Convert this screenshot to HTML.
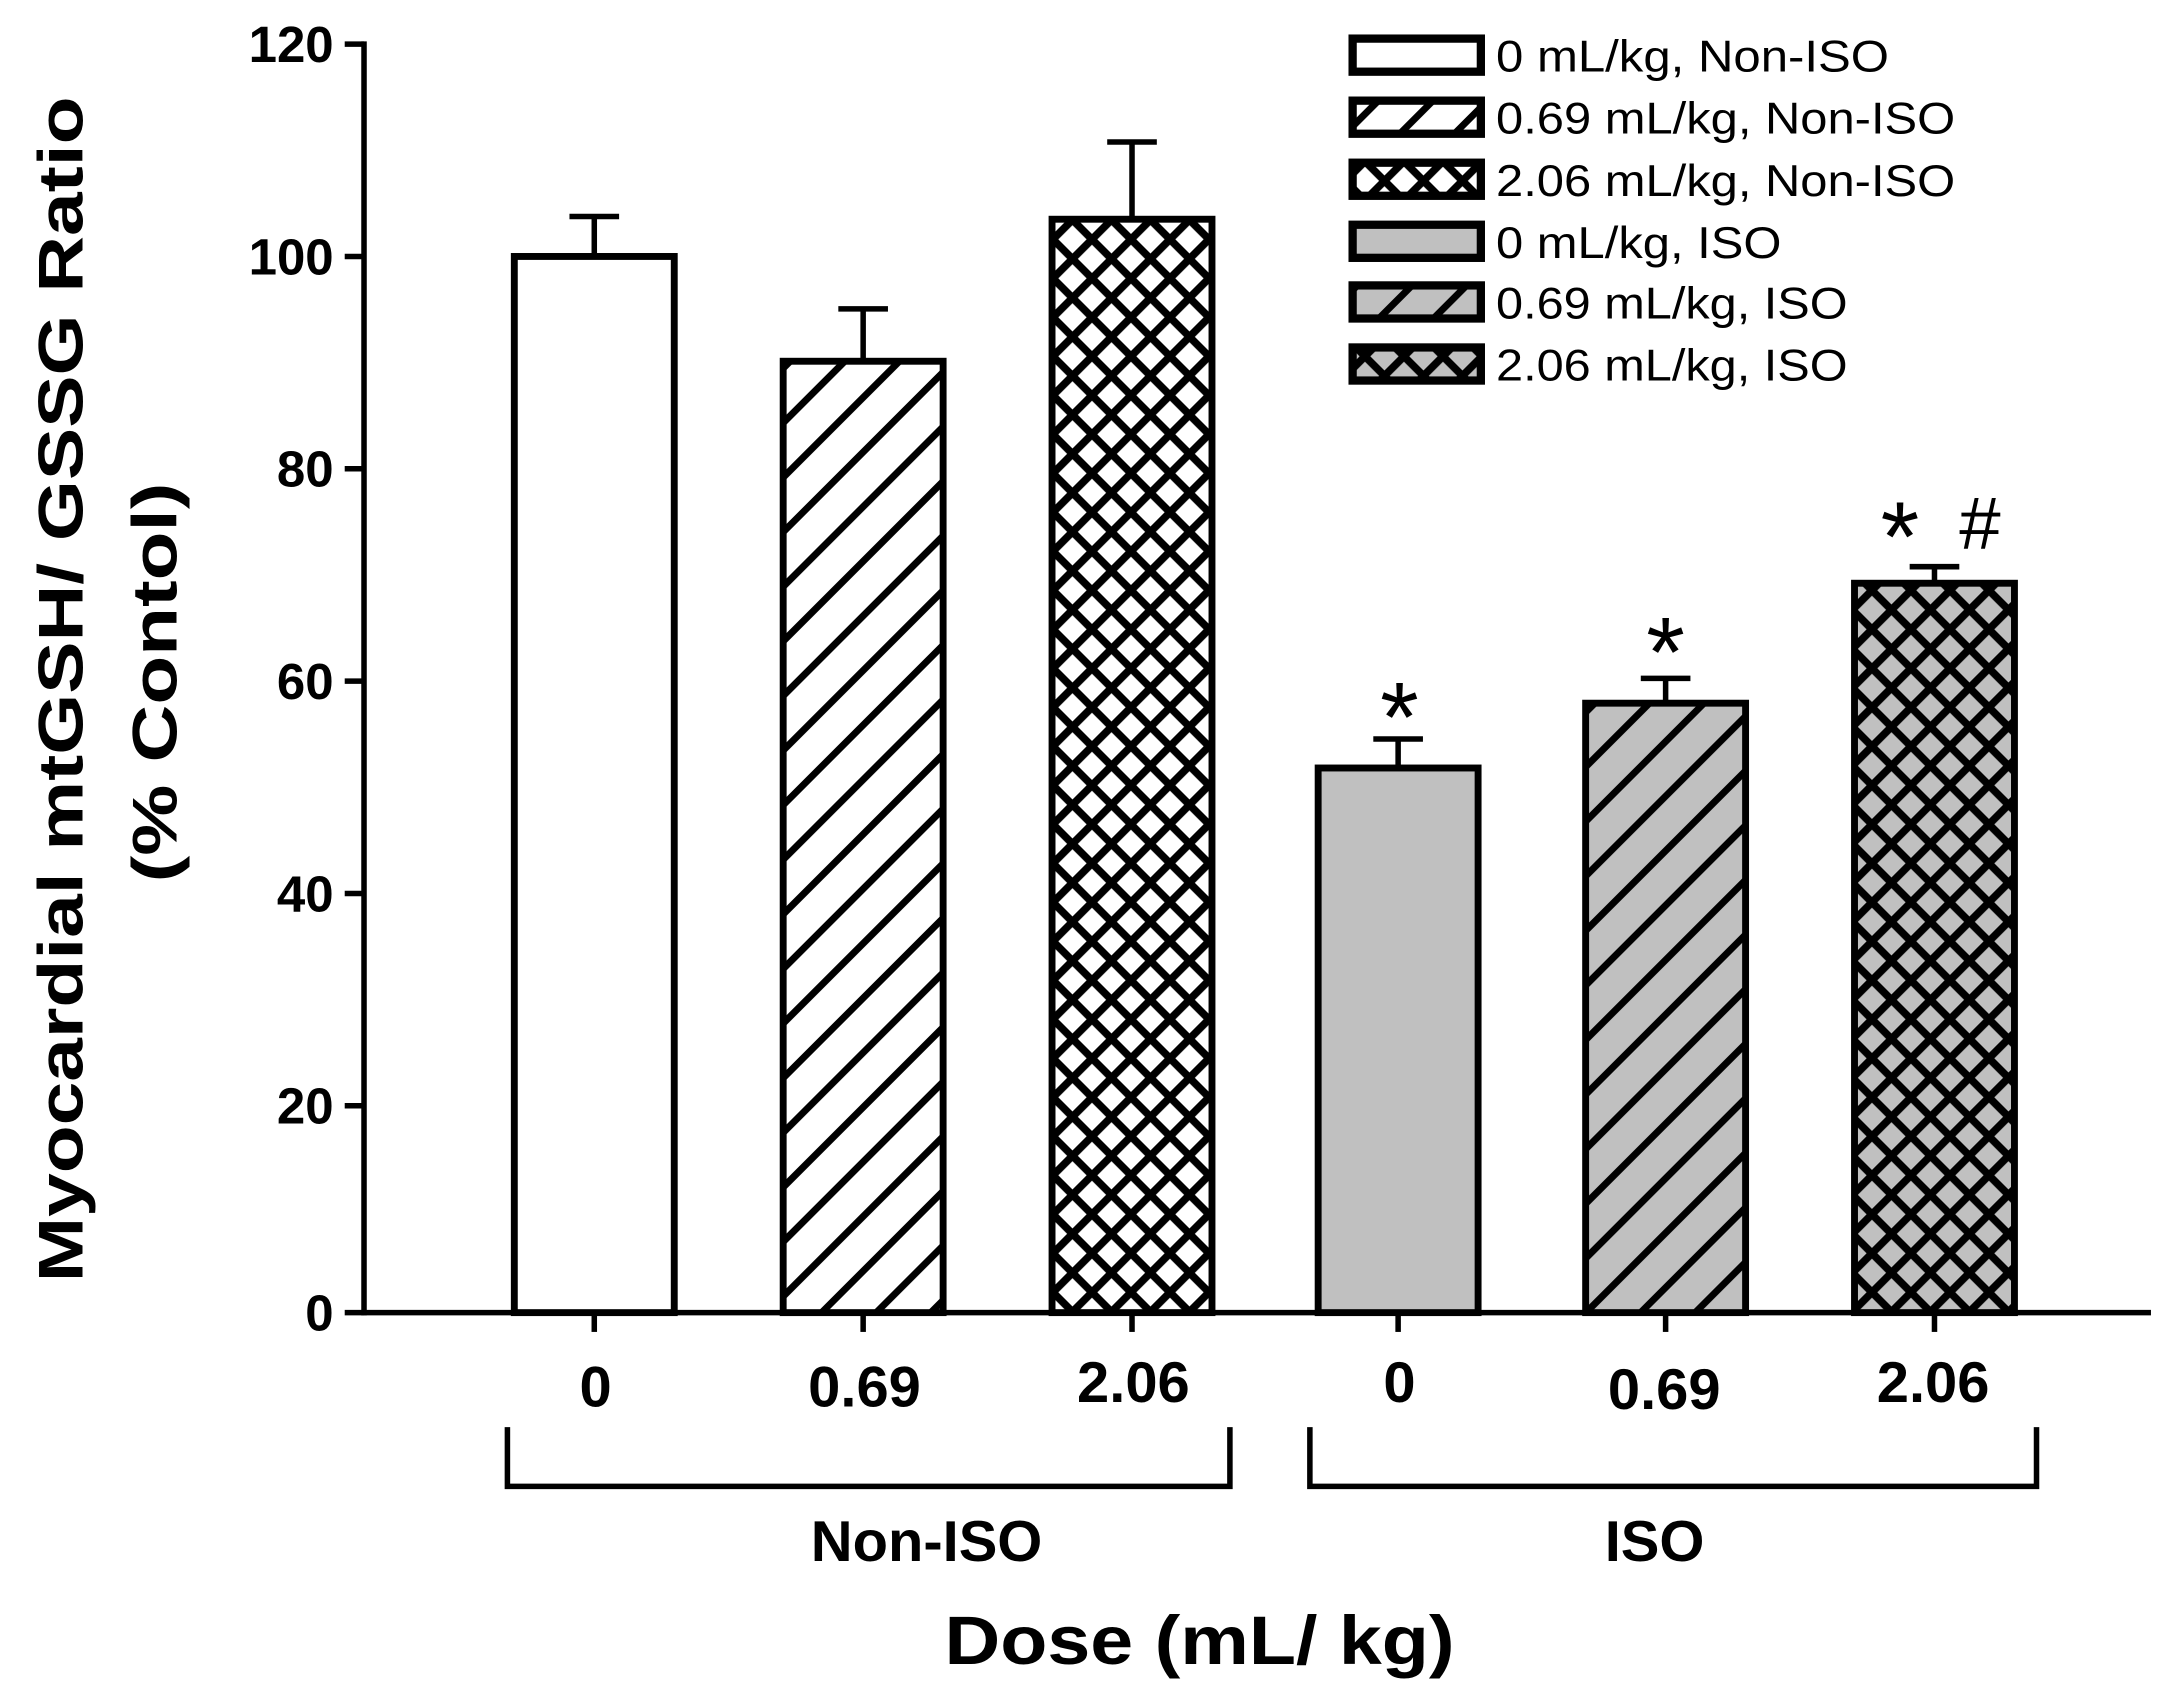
<!DOCTYPE html>
<html><head><meta charset="utf-8"><style>
html,body{margin:0;padding:0;background:#fff;}
svg{display:block;}
text{font-family:"Liberation Sans",Arial,sans-serif;}
</style></head><body>
<svg width="2162" height="1706" viewBox="0 0 1568 1237.3" xmlns="http://www.w3.org/2000/svg">
<defs>
<pattern id="hw" patternUnits="userSpaceOnUse" width="28" height="28" patternTransform="rotate(45)">
<rect width="28" height="28" fill="#fff"/><rect x="0" y="0" width="5" height="28" fill="#000"/></pattern>
<pattern id="hg" patternUnits="userSpaceOnUse" width="28" height="28" patternTransform="rotate(45)">
<rect width="28" height="28" fill="#c0c0c0"/><rect x="0" y="0" width="5" height="28" fill="#000"/></pattern>
<pattern id="xw" patternUnits="userSpaceOnUse" width="20" height="20" patternTransform="rotate(45)">
<rect width="20" height="20" fill="#fff"/><rect x="0" y="0" width="5.5" height="20" fill="#000"/><rect x="0" y="0" width="20" height="5.5" fill="#000"/></pattern>
<pattern id="xg" patternUnits="userSpaceOnUse" width="20" height="20" patternTransform="rotate(45)">
<rect width="20" height="20" fill="#c0c0c0"/><rect x="0" y="0" width="5.5" height="20" fill="#000"/><rect x="0" y="0" width="20" height="5.5" fill="#000"/></pattern>
</defs>
<rect width="1568" height="1238" fill="#fff"/>
<g stroke="#000" stroke-width="4" fill="none">
<line x1="264" y1="30" x2="264" y2="954"/>
<line x1="262" y1="952" x2="1560" y2="952"/>
<line x1="250" y1="32" x2="264" y2="32"/>
<line x1="250" y1="186" x2="264" y2="186"/>
<line x1="250" y1="340" x2="264" y2="340"/>
<line x1="250" y1="494" x2="264" y2="494"/>
<line x1="250" y1="648" x2="264" y2="648"/>
<line x1="250" y1="802" x2="264" y2="802"/>
<line x1="250" y1="952" x2="264" y2="952"/>
<line x1="431" y1="952" x2="431" y2="966"/>
<line x1="626" y1="952" x2="626" y2="966"/>
<line x1="821" y1="952" x2="821" y2="966"/>
<line x1="1014" y1="952" x2="1014" y2="966"/>
<line x1="1208" y1="952" x2="1208" y2="966"/>
<line x1="1403" y1="952" x2="1403" y2="966"/>
<line x1="431" y1="186" x2="431" y2="157"/><line x1="413" y1="157" x2="449" y2="157"/>
<line x1="626" y1="262" x2="626" y2="224"/><line x1="608" y1="224" x2="644" y2="224"/>
<line x1="821" y1="159" x2="821" y2="103"/><line x1="803" y1="103" x2="839" y2="103"/>
<line x1="1014" y1="557" x2="1014" y2="536"/><line x1="996" y1="536" x2="1032" y2="536"/>
<line x1="1208" y1="510" x2="1208" y2="492"/><line x1="1190" y1="492" x2="1226" y2="492"/>
<line x1="1403" y1="423" x2="1403" y2="411"/><line x1="1385" y1="411" x2="1421" y2="411"/>
<polyline points="368,1035 368,1078 892,1078 892,1035"/>
<polyline points="950,1035 950,1078 1477,1078 1477,1035"/>
</g>
<g stroke="#000" stroke-width="5">
<rect x="373" y="186" width="116" height="766" fill="#fff"/>
<rect x="568" y="262" width="116" height="690" fill="url(#hw)"/>
<rect x="763" y="159" width="116" height="793" fill="url(#xw)"/>
<rect x="956" y="557" width="116" height="395" fill="#c0c0c0"/>
<rect x="1150" y="510" width="116" height="442" fill="url(#hg)"/>
<rect x="1345" y="423" width="116" height="529" fill="url(#xg)"/>
</g>
<g font-size="37" font-weight="bold" text-anchor="end">
<text x="242" y="45">120</text><text x="242" y="199">100</text><text x="242" y="353">80</text>
<text x="242" y="507">60</text><text x="242" y="661">40</text><text x="242" y="815">20</text><text x="242" y="965">0</text>
</g>
<g font-size="42" font-weight="bold" text-anchor="middle">
<text x="432" y="1020">0</text><text x="627" y="1020">0.69</text><text x="822" y="1017">2.06</text>
<text x="1015" y="1017">0</text><text x="1207" y="1022">0.69</text><text x="1402" y="1017">2.06</text>
<text x="672" y="1132">Non-ISO</text><text x="1200" y="1132">ISO</text>
<text x="870" y="1207" font-size="50" textLength="370" lengthAdjust="spacingAndGlyphs">Dose (mL/ kg)</text>
</g>
<g font-size="46" font-weight="bold" text-anchor="middle">
<text transform="translate(60,500) rotate(-90)" textLength="860" lengthAdjust="spacingAndGlyphs">Myocardial mtGSH/ GSSG Ratio</text>
<text transform="translate(128,495) rotate(-90)" textLength="290" lengthAdjust="spacingAndGlyphs">(% Contol)</text>
</g>
<g font-size="72" text-anchor="middle">
<text x="1015" y="545">*</text><text x="1208" y="498">*</text><text x="1378" y="414">*</text>
<text x="1436" y="398" font-size="54">#</text>
</g>
<g stroke="#000" stroke-width="6">
<rect x="981" y="28" width="93" height="24" fill="#fff"/>
<rect x="981" y="73" width="93" height="24" fill="url(#hw)"/>
<rect x="981" y="118" width="93" height="24" fill="url(#xw)"/>
<rect x="981" y="163" width="93" height="24" fill="#c0c0c0"/>
<rect x="981" y="207" width="93" height="24" fill="url(#hg)"/>
<rect x="981" y="252" width="93" height="24" fill="url(#xg)"/>
</g>
<g font-size="32">
<text x="1085" y="52" textLength="285" lengthAdjust="spacingAndGlyphs">0 mL/kg, Non-ISO</text>
<text x="1085" y="97" textLength="333" lengthAdjust="spacingAndGlyphs">0.69 mL/kg, Non-ISO</text>
<text x="1085" y="142" textLength="333" lengthAdjust="spacingAndGlyphs">2.06 mL/kg, Non-ISO</text>
<text x="1085" y="187" textLength="207" lengthAdjust="spacingAndGlyphs">0 mL/kg, ISO</text>
<text x="1085" y="231" textLength="255" lengthAdjust="spacingAndGlyphs">0.69 mL/kg, ISO</text>
<text x="1085" y="276" textLength="255" lengthAdjust="spacingAndGlyphs">2.06 mL/kg, ISO</text>
</g>
</svg>
</body></html>
